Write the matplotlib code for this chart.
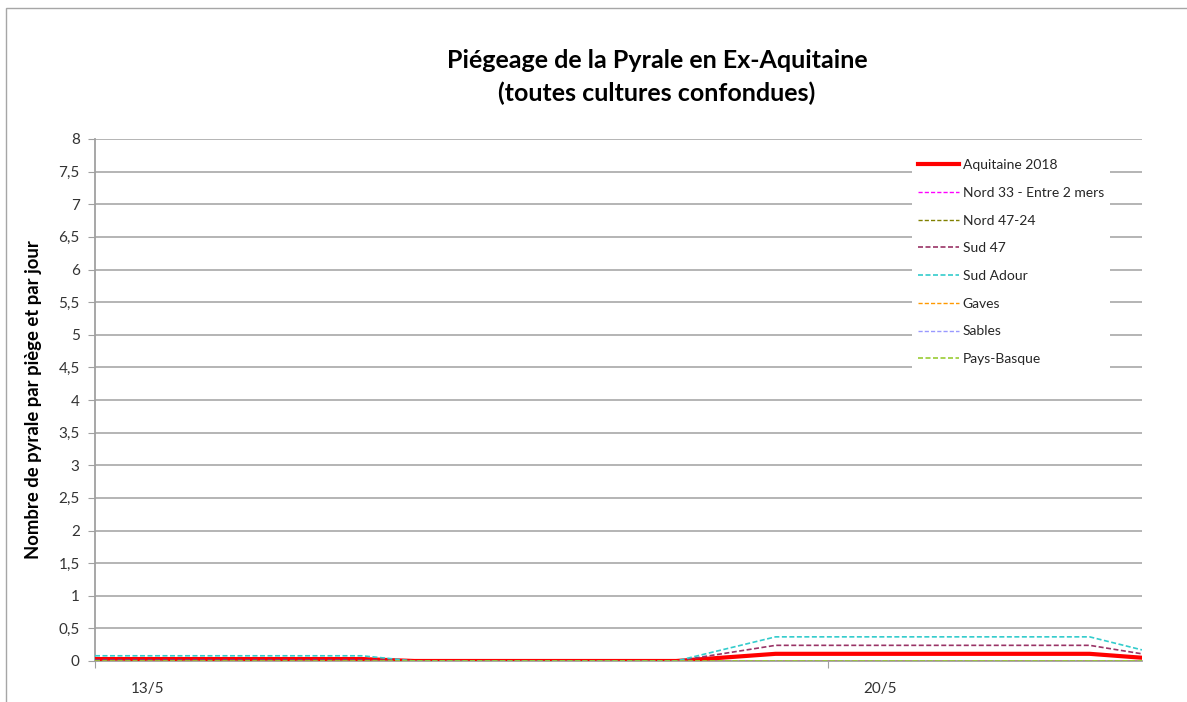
import matplotlib
matplotlib.use('Agg')
import matplotlib.pyplot as plt
from matplotlib.patches import Rectangle
from matplotlib.ticker import FixedLocator, FuncFormatter

plt.rcParams['font.family'] = ['Lato', 'DejaVu Sans']

# Data (x in days counted from 13/5)
days = [0, 2.55, 3.05, 5.55, 6.5, 9.5, 10.0]
aquitaine_2018 = [0.03, 0.03, 0, 0, 0.11, 0.11, 0.05]
nord_33 = [0, 0, 0, 0, 0, 0, 0]
nord_47_24 = [0, 0, 0, 0, 0, 0, 0]
sud_47 = [0.02, 0.02, 0, 0, 0.24, 0.24, 0.11]
sud_adour = [0.08, 0.08, 0, 0, 0.37, 0.37, 0.17]
gaves = [0, 0, 0, 0, 0, 0, 0]
sables = [0, 0, 0, 0, 0, 0, 0]
pays_basque = [0, 0, 0, 0, 0, 0, 0]

tick_days = [0, 7]
label_days = [0.5, 7.5]
date_labels = ['13/5', '20/5']

W, H = 1187, 702
fig = plt.figure(figsize=(W / 100, H / 100), dpi=100)
ax = fig.add_axes([95 / W, (H - 661) / H, (1142 - 95) / W, (661 - 139) / H])

# outer chart border
fig.patches.append(Rectangle((6 / W, -0.05), 1.1, (H - 8) / H + 0.05,
                             transform=fig.transFigure, fill=False,
                             edgecolor='#a6a6a6', linewidth=1))

dash = (0, (3, 1.5))
ax.plot(days, aquitaine_2018, color='#ff0000', linewidth=3, label='Aquitaine 2018', zorder=3)
ax.plot(days, nord_33, color='#ff00ff', linewidth=1, linestyle=dash, label='Nord 33 - Entre 2 mers', zorder=3)
ax.plot(days, nord_47_24, color='#808000', linewidth=1, linestyle=dash, label='Nord 47-24', zorder=3)
ax.plot(days, sud_47, color='#993366', linewidth=1.2, linestyle=dash, label='Sud 47', zorder=3)
ax.plot(days, sud_adour, color='#33cccc', linewidth=1.2, linestyle=dash, label='Sud Adour', zorder=3)
ax.plot(days, gaves, color='#ff9900', linewidth=1, linestyle=dash, label='Gaves', zorder=3)
ax.plot(days, sables, color='#9999ff', linewidth=1, linestyle=dash, label='Sables', zorder=3)
ax.plot(days, pays_basque, color='#99cc33', linewidth=1.2, linestyle=dash, label='Pays-Basque', zorder=3)

ax.set_xlim(0, 10)
ax.set_ylim(0, 8)

ax.set_yticks([i * 0.5 for i in range(17)])
ax.yaxis.set_major_formatter(FuncFormatter(lambda v, p: ('%g' % v).replace('.', ',')))
ax.grid(axis='y', color='#a0a0a0', linewidth=1.1)
ax.set_axisbelow(True)

ax.xaxis.set_major_locator(FixedLocator(tick_days))
ax.xaxis.set_major_formatter(FuncFormatter(lambda v, p: ''))
ax.xaxis.set_minor_locator(FixedLocator(label_days))
ax.xaxis.set_minor_formatter(FuncFormatter(lambda v, p: date_labels[p] if p < len(date_labels) else ''))
ax.tick_params(axis='x', which='minor', length=0, pad=15, labelsize=11, labelcolor='#333333')
ax.tick_params(axis='x', which='major', length=5, color='#a0a0a0')
ax.tick_params(axis='y', length=5, color='#a0a0a0', labelsize=11, labelcolor='#333333', pad=6)

for side in ['top', 'right']:
    ax.spines[side].set_visible(False)
for side in ['left', 'bottom']:
    ax.spines[side].set_color('#a0a0a0')
    ax.spines[side].set_linewidth(1.3)

ax.set_ylabel('Nombre de pyrale par piège et par jour', fontsize=13.3, fontweight='bold', labelpad=12)

fig.text(657 / W, 1 - 60 / H, 'Piégeage de la Pyrale en Ex-Aquitaine', ha='center', va='center',
         fontsize=18, fontweight='bold')
fig.text(657 / W, 1 - 93 / H, '(toutes cultures confondues)', ha='center', va='center',
         fontsize=18, fontweight='bold')

leg = ax.legend(loc='upper left', bbox_to_anchor=(912 / W, 1 - 153 / H), bbox_transform=fig.transFigure,
                fontsize=10, frameon=True, fancybox=False, handlelength=2.9, handletextpad=0.3,
                labelspacing=1.13, borderpad=0.45, borderaxespad=0)
leg.get_frame().set_facecolor('white')
leg.get_frame().set_edgecolor('none')
leg.get_frame().set_alpha(1)
for t in leg.get_texts():
    t.set_color('#262626')

fig.savefig('out.png', dpi=100)
